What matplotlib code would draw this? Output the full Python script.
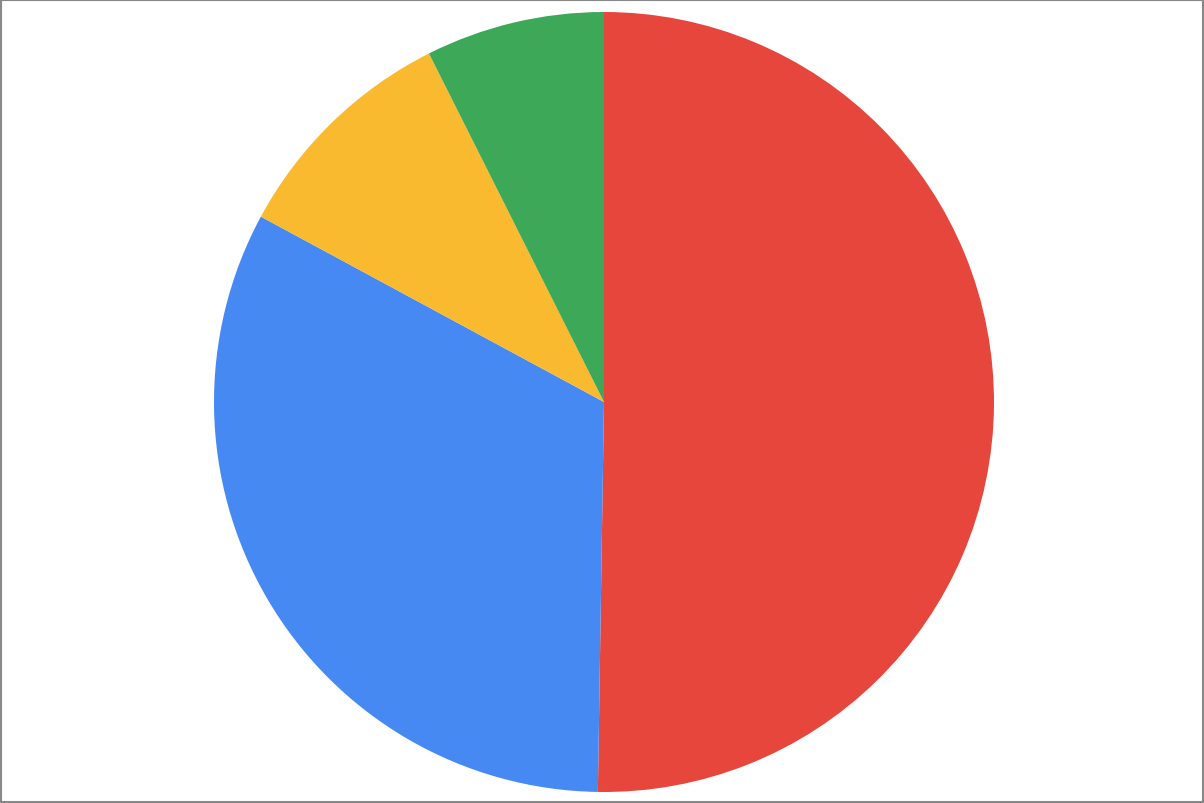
import matplotlib
matplotlib.use('Agg')
import matplotlib.pyplot as plt
from matplotlib.patches import Rectangle

# slice shares, clockwise from 12 o'clock
labels = ['Red', 'Blue', 'Yellow', 'Green']
values = [50.2, 32.6, 9.7, 7.4]
colors = ['#E7463D', '#4689F2', '#F9BA2F', '#3CA858']

W, H = 1204, 804
fig = plt.figure(figsize=(W / 100, H / 100), dpi=100)

# pie centred at about (604, 403) px, radius ~390 px
cx, cy, r = 604, 403, 390
ax = fig.add_axes([(cx - r) / W, (H - cy - r) / H, 2 * r / W, 2 * r / H])
ax.pie(values, colors=colors, startangle=90, counterclock=False, radius=1,
       wedgeprops=dict(edgecolor='none', linewidth=0))
ax.set_xlim(-1, 1)
ax.set_ylim(-1, 1)
ax.set_aspect('equal')
ax.axis('off')

# grey frame round the figure
fig.patches.append(Rectangle((0.001, 0.001), 0.998, 0.998, transform=fig.transFigure,
                             fill=False, edgecolor='#888888', linewidth=1.5))

fig.savefig('out.png', dpi=100)
